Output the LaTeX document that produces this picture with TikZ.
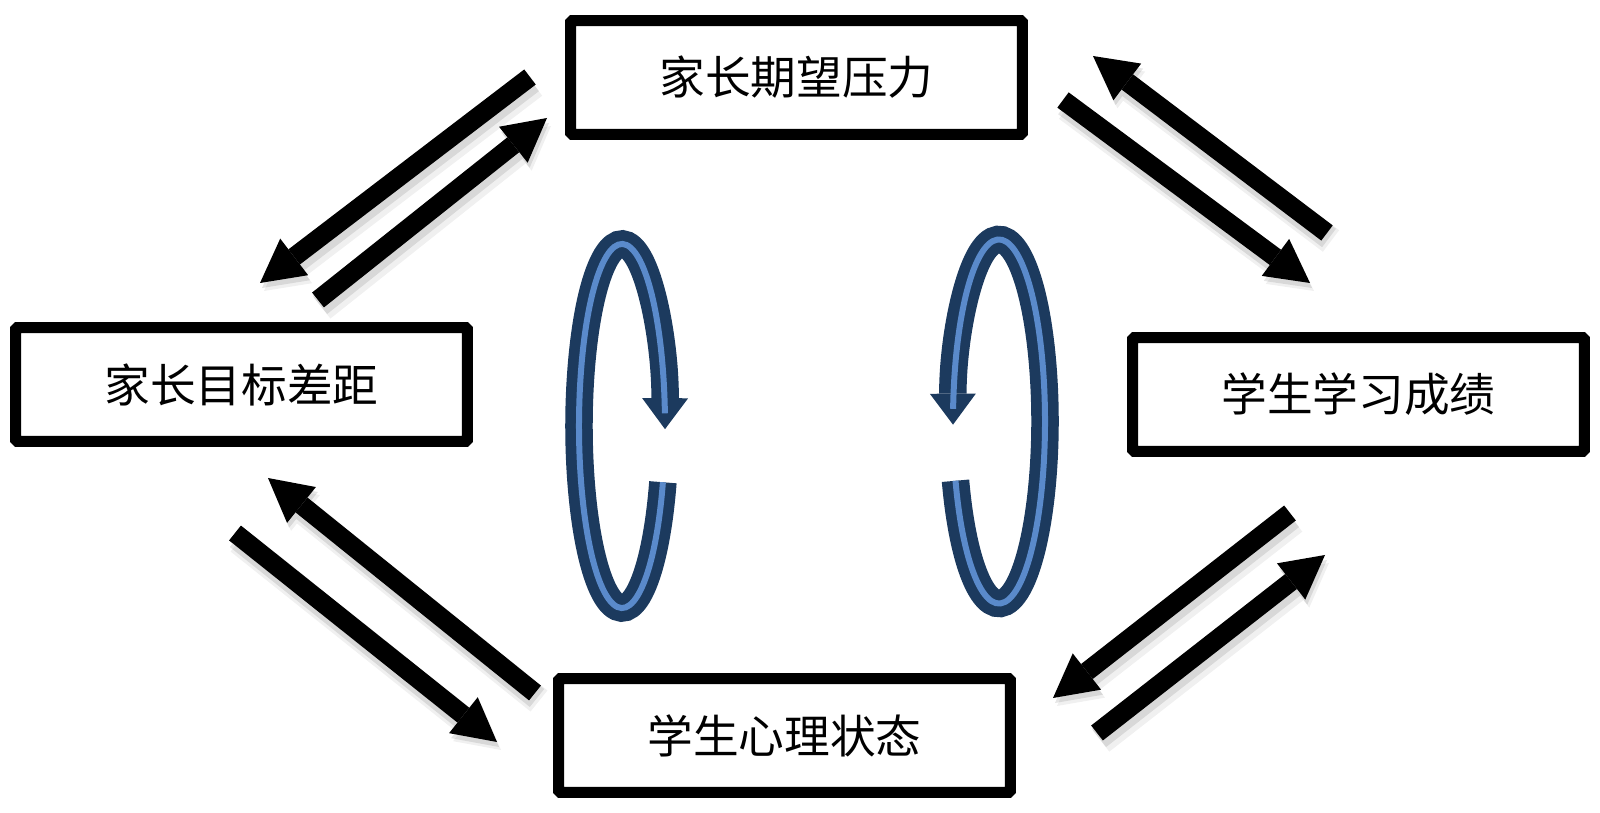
\documentclass[tikz,border=0pt]{standalone}
\usepackage{fontspec}
\newfontfamily\cjk{Noto Sans CJK SC}
\usepackage{tikz}
\usetikzlibrary{arrows.meta}
\definecolor{loopdark}{HTML}{1C3A5E}
\definecolor{looplight}{HTML}{5A8ACB}
\tikzset{
  box/.style={draw,line width=0.22cm,rounded corners=1pt,fill=white,minimum width=9.04cm,
    minimum height=2.28cm,inner sep=0,font=\cjk\fontsize{26}{30}\selectfont},
  fat/.style={line width=0.38cm,-{Triangle[width=0.92cm,length=0.86cm,line width=0pt]}},
  fatshadow/.style={fat,black,line width=0.46cm,opacity=0.1,transform canvas={shift={(2,5)}}},
  fatshade/.style={fat,black,line width=0.54cm,opacity=0.06,transform canvas={shift={(4,8)}}},
  loopout/.style={loopdark,line width=0.55cm,-{Triangle[width=0.92cm,length=0.62cm,line width=0pt]}},
  loopin/.style={looplight,line width=0.12cm}
}
\newcommand{\fatarrow}[2]{% from, to   (black arrow with a soft shadow)
  \draw[fatshade] (#1) -- (#2);
  \draw[fatshadow] (#1) -- (#2);
  \draw[fat] (#1) -- (#2);}

\begin{document}
\begin{tikzpicture}[x=0.02cm,y=-0.02cm]
  \useasboundingbox (0,0) rectangle (1600,813);
  % the four boxes
  \node[box] (press) at (796.5,77.5) {家长期望压力};
  \node[box] (gap)   at (241.5,384.5) {家长目标差距};
  \node[box] (score) at (1358.5,394.5) {学生学习成绩};
  \node[box] (mind)  at (784.5,735.5) {学生心理状态};
  % arrow ends
  \coordinate (pg1) at (530,77);   \coordinate (pg2) at (260,283);
  \coordinate (gp1) at (318,300);  \coordinate (gp2) at (547,118);
  \coordinate (sp1) at (1327,233); \coordinate (sp2) at (1093,56);
  \coordinate (ps1) at (1063,100); \coordinate (ps2) at (1310,283);
  \coordinate (mg1) at (535,693);  \coordinate (mg2) at (268,478);
  \coordinate (gm1) at (235,533);  \coordinate (gm2) at (497,742);
  \coordinate (sm1) at (1290,513); \coordinate (sm2) at (1053,698);
  \coordinate (ms1) at (1097,733); \coordinate (ms2) at (1325,555);
  \fatarrow{pg1}{pg2}\fatarrow{gp1}{gp2}
  \fatarrow{sp1}{sp2}\fatarrow{ps1}{ps2}
  \fatarrow{mg1}{mg2}\fatarrow{gm1}{gm2}
  \fatarrow{sm1}{sm2}\fatarrow{ms1}{ms2}
  % left loop
  \coordinate (loopL) at (622,426);
  \draw[loopout] (loopL) ++(18:43 and 182) arc[start angle=18,end angle=361,x radius=43,y radius=182];
  \draw[loopin] (loopL) ++(18:43 and 182) arc[start angle=18,end angle=356,x radius=43,y radius=182];
  % right loop
  \coordinate (loopR) at (999,421.5);
  \draw[loopout] (loopR) ++(161:46 and 182) arc[start angle=161,end angle=-181,x radius=46,y radius=182];
  \draw[loopin] (loopR) ++(161:46 and 182) arc[start angle=161,end angle=-176,x radius=46,y radius=182];
\end{tikzpicture}
\end{document}
